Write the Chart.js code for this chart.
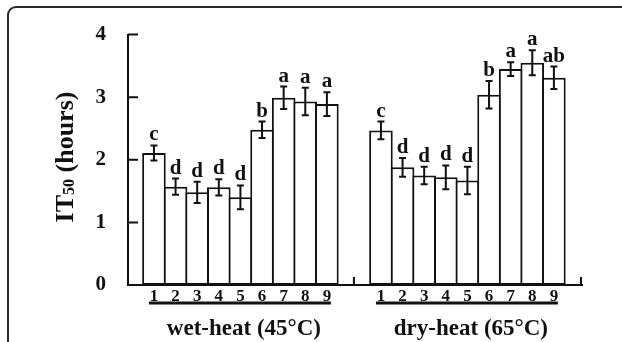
<!DOCTYPE html>
<html>
<head>
<meta charset="utf-8">
<script src="https://cdn.jsdelivr.net/npm/chart.js@4.4.0/dist/chart.umd.min.js"></script>
<style>
html, body { margin: 0; padding: 0; background: #fff; }
</style>
</head>
<body>
<canvas id="it50Chart" width="622" height="342"></canvas>
<script>
const treatments = ["1", "2", "3", "4", "5", "6", "7", "8", "9"];
const wetPos = [1, 2, 3, 4, 5, 6, 7, 8, 9];
const dryPos = [11.5, 12.5, 13.5, 14.5, 15.5, 16.5, 17.5, 18.5, 19.5];
const wetValues = [2.11, 1.57, 1.48, 1.56, 1.40, 2.48, 2.99, 2.93, 2.89];
const wetErrors = [0.12, 0.13, 0.17, 0.13, 0.19, 0.13, 0.18, 0.22, 0.19];
const wetLetters = ["c", "d", "d", "d", "d", "b", "a", "a", "a"];
const dryValues = [2.47, 1.88, 1.75, 1.72, 1.67, 3.04, 3.45, 3.55, 3.31];
const dryErrors = [0.14, 0.15, 0.14, 0.19, 0.22, 0.22, 0.11, 0.20, 0.18];
const dryLetters = ["c", "d", "d", "d", "d", "b", "a", "a", "ab"];
const groupTitles = ["wet-heat (45°C)", "dry-heat (65°C)"];
const yTicks = [0, 1, 2, 3, 4];
const gapMark = 10.25;

const ink = "#111";
const serif = "'Liberation Serif', 'Times New Roman', serif";

const toPoints = (pos, vals) => pos.map((p, i) => ({ x: p, y: vals[i] }));

const overlay = {
    id: "overlay",
    afterDatasetsDraw(chart) {
        const ctx = chart.ctx;
        const x = chart.scales.x;
        const y = chart.scales.y;
        const area = chart.chartArea;
        ctx.save();
        ctx.strokeStyle = ink;
        ctx.fillStyle = ink;
        ctx.lineWidth = 2;

        // error bars and letters
        ctx.font = "bold 21px " + serif;
        ctx.textAlign = "center";
        ctx.textBaseline = "alphabetic";
        const groups = [
            [wetPos, wetValues, wetErrors, wetLetters],
            [dryPos, dryValues, dryErrors, dryLetters]
        ];
        groups.forEach(([pos, vals, errs, letters]) => {
            pos.forEach((p, i) => {
                const cx = x.getPixelForValue(p);
                const top = y.getPixelForValue(vals[i] + errs[i]);
                const bot = y.getPixelForValue(vals[i] - errs[i]);
                ctx.beginPath();
                ctx.moveTo(cx, top);
                ctx.lineTo(cx, bot);
                ctx.moveTo(cx - 3.5, top);
                ctx.lineTo(cx + 3.5, top);
                ctx.moveTo(cx - 3.5, bot);
                ctx.lineTo(cx + 3.5, bot);
                ctx.stroke();
                ctx.fillText(letters[i], cx, top - 5);
            });
        });

        // inward ticks on y axis
        ctx.beginPath();
        yTicks.forEach(v => {
            const py = y.getPixelForValue(v);
            ctx.moveTo(area.left, py);
            ctx.lineTo(area.left + 10, py);
        });
        // upward marks on x axis
        [x.getPixelForValue(gapMark), area.right - 1].forEach(px => {
            ctx.moveTo(px, area.bottom);
            ctx.lineTo(px, area.bottom - 8);
        });
        ctx.stroke();

        // group underlines and titles
        ctx.lineWidth = 3;
        ctx.font = "bold 23px " + serif;
        [wetPos, dryPos].forEach((pos, g) => {
            const x0 = x.getPixelForValue(pos[0]) - 5;
            const x1 = x.getPixelForValue(pos[pos.length - 1]) + 4;
            ctx.beginPath();
            ctx.moveTo(x0, 303);
            ctx.lineTo(x1, 303);
            ctx.stroke();
            ctx.fillText(groupTitles[g], (x0 + x1) / 2 + 4, 335);
        });

        // y title with subscript
        ctx.save();
        ctx.translate(64, 157);
        ctx.rotate(-Math.PI / 2);
        ctx.textAlign = "left";
        const big = "bold 26px " + serif;
        const small = "bold 16px " + serif;
        ctx.font = big;
        const w1 = ctx.measureText("IT").width;
        const w3 = ctx.measureText(" (hours)").width;
        ctx.font = small;
        const w2 = ctx.measureText("50").width;
        const tx = -(w1 + w2 + w3) / 2;
        ctx.font = big;
        ctx.fillText("IT", tx, 9);
        ctx.font = small;
        ctx.fillText("50", tx + w1, 10);
        ctx.font = big;
        ctx.fillText(" (hours)", tx + w1 + w2, 9);
        ctx.restore();

        // rounded frame
        ctx.strokeStyle = "#2a2a2a";
        ctx.lineWidth = 2;
        ctx.beginPath();
        ctx.moveTo(8, 360);
        ctx.lineTo(8, 15);
        ctx.arcTo(8, 7, 16, 7, 8);
        ctx.lineTo(640, 7);
        ctx.stroke();
        ctx.restore();
    }
};

const barStyle = {
    backgroundColor: "#fff",
    borderColor: ink,
    borderWidth: 2,
    borderSkipped: false,
    grouped: false,
    barPercentage: 1.09,
    categoryPercentage: 1
};

new Chart(document.getElementById("it50Chart"), {
    type: "bar",
    data: {
        datasets: [
            Object.assign({ label: groupTitles[0], data: toPoints(wetPos, wetValues) }, barStyle),
            Object.assign({ label: groupTitles[1], data: toPoints(dryPos, dryValues) }, barStyle)
        ]
    },
    options: {
        responsive: false,
        animation: false,
        devicePixelRatio: 1,
        layout: { padding: { top: 33, right: 40, left: 0, bottom: 0 } },
        plugins: {
            legend: { display: false },
            tooltip: { enabled: false }
        },
        scales: {
            x: {
                type: "linear",
                offset: false,
                min: -0.2,
                max: 20.8,
                grid: { display: false, drawTicks: false, offset: false },
                border: { display: true, color: ink, width: 2 },
                afterBuildTicks: scale => {
                    scale.ticks = wetPos.concat(dryPos).map(v => ({ value: v }));
                },
                afterFit: scale => { scale.height = 57; },
                ticks: {
                    autoSkip: false,
                    maxRotation: 0,
                    padding: 1,
                    color: ink,
                    font: { family: serif, size: 17, weight: "bold" },
                    callback: (value, index) => treatments[index % treatments.length]
                }
            },
            y: {
                min: 0,
                max: 4,
                grid: { display: false, drawTicks: false },
                border: { display: true, color: ink, width: 2 },
                afterFit: scale => { scale.width = 128; },
                ticks: {
                    stepSize: 1,
                    padding: 22,
                    color: ink,
                    font: { family: serif, size: 21, weight: "bold" }
                }
            }
        }
    },
    plugins: [overlay]
});
</script>
</body>
</html>
